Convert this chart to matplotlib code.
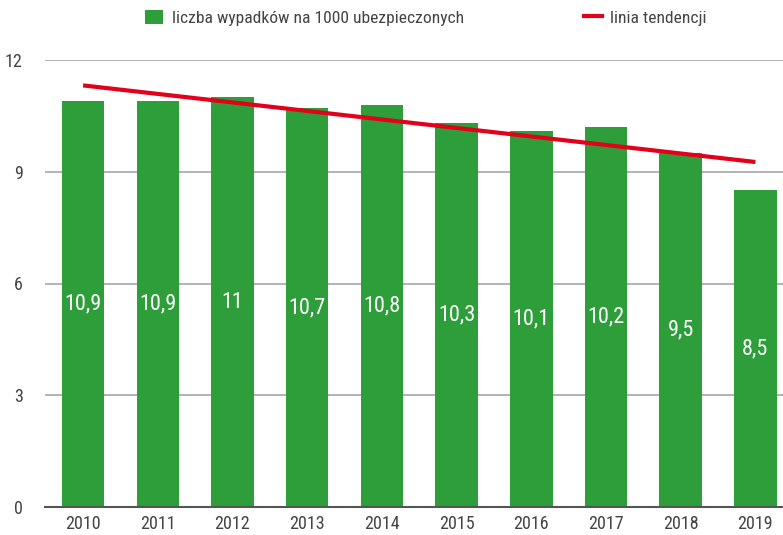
import matplotlib
matplotlib.use("Agg")
import matplotlib.pyplot as plt
from matplotlib.patches import Patch
from matplotlib.lines import Line2D
import numpy as np

years = ["2010", "2011", "2012", "2013", "2014", "2015", "2016", "2017", "2018", "2019"]
values = [10.9, 10.9, 11.0, 10.7, 10.8, 10.3, 10.1, 10.2, 9.5, 8.5]
labels = ["10,9", "10,9", "11", "10,7", "10,8", "10,3", "10,1", "10,2", "9,5", "8,5"]
yticks = [0, 3, 6, 9, 12]
bar_name = "liczba wypadków na 1000 ubezpieczonych"
trend_name = "linia tendencji"

plt.rcParams['font.family'] = ['Roboto Condensed', 'DejaVu Sans']

GREEN = "#2e9e3a"
RED = "#e2001a"

fig = plt.figure(figsize=(7.83, 5.35), dpi=100)
ax = fig.add_axes([45/783, 28/535, 738/783, 447/535])

x = np.arange(len(years))
ax.bar(x, values, width=0.57, color=GREEN, zorder=2)

coef = np.polyfit(x, values, 1)
trend = np.polyval(coef, x)
ax.plot(x, trend, color=RED, lw=3, zorder=3, solid_capstyle='butt')

for xi, v, lab in zip(x, values, labels):
    ax.text(xi, v / 2, lab, ha='center', va='center', color='white', fontsize=16, zorder=4)

ax.set_xlim(-0.51, 9.37)
ax.set_ylim(0, 12)
ax.set_yticks(yticks)
ax.set_yticklabels([str(t) for t in yticks])
ax.set_xticks(x)
ax.set_xticklabels(years)
ax.tick_params(axis='both', length=0, labelsize=13, colors="#444444")
ax.tick_params(axis='y', pad=16)
ax.tick_params(axis='x', pad=6)
ax.grid(axis='y', color="#a6a6a6", lw=1.2, zorder=1)
for s in ['top', 'right', 'left']:
    ax.spines[s].set_visible(False)
ax.spines['bottom'].set_color("#555555")
ax.spines['bottom'].set_linewidth(1.5)
ax.spines['bottom'].set_zorder(5)

handles = [Patch(facecolor=GREEN, edgecolor='none'),
           Line2D([0], [0], color=RED, lw=3)]
fig.legend(handles, [bar_name, trend_name], ncol=2, frameon=False,
           loc='upper left', bbox_to_anchor=(129/783, 1 + 6/535),
           fontsize=12.6, labelcolor="#444444", columnspacing=6.85,
           handlelength=1.03, handleheight=0.86, handletextpad=0.5)

fig.savefig("out.png", dpi=100)
